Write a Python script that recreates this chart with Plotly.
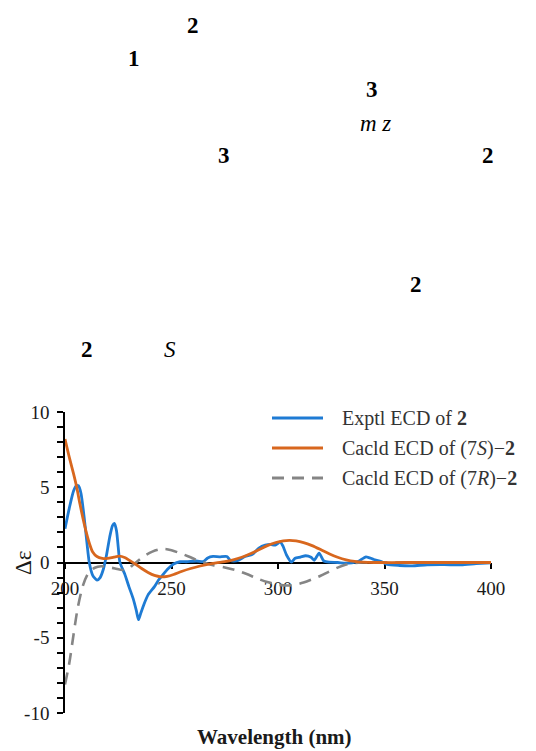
import plotly.graph_objects as go

# ---------------- data ----------------
exptl_nm = [200, 202, 204, 205.3, 206.3, 207.5, 209, 210.3, 211.4, 213, 215, 216.5, 218, 219.5, 221, 222.3, 223.2,
            224.2, 225, 225.8, 228, 230, 232, 233.5, 234.5, 235.5, 237, 239, 242, 244, 246, 248.5, 251, 254, 257,
            261.7, 265, 267, 269.5, 272.5, 276, 277.8, 281, 284.5, 288, 291, 294, 296.5, 298.7, 301, 302.3, 304,
            306.3, 308, 310.5, 313, 315.5, 317, 319.3, 321.5, 324, 328, 331.5, 334.7, 337.8, 341.3, 345, 348.5,
            351.2, 357, 363, 370, 378, 386, 393, 400]
exptl_val = [2.25, 3.6, 4.75, 5.1, 5.1, 4.6, 3.0, 1.3, 0.0, -0.85, -1.17, -1.0, -0.45, 0.5, 1.7, 2.45, 2.6,
             2.1, 1.0, 0.0, -0.75, -1.6, -2.4, -3.2, -3.8, -3.4, -2.8, -2.15, -1.6, -1.15, -0.8, -0.4, -0.1, 0.05, 0.05,
             0.1, 0.06, 0.3, 0.4, 0.38, 0.4, 0.12, 0.12, 0.4, 0.55, 0.95, 1.15, 1.2, 1.15, 1.37, 1.1, 0.5,
             0.03, 0.28, 0.36, 0.45, 0.35, 0.15, 0.62, 0.1, 0.02, 0.0, -0.05, -0.02, 0.08, 0.38, 0.2, 0.07,
             -0.13, -0.2, -0.22, -0.15, -0.14, -0.16, -0.08, -0.02]

s_nm = [200, 202, 204, 205.5, 207, 208.5, 210, 211.5, 213, 215, 217.5, 220, 223, 225.5, 228, 230.5, 233, 236,
        239, 242, 245, 248, 251, 255, 259, 263, 267, 271, 275, 279, 283, 287, 291, 295, 299, 302.5, 305.5, 308.5,
        312, 316, 320, 324, 328, 332, 336, 340, 345, 360, 380, 400]
s_val = [8.2, 7.0, 5.9, 5.0, 3.9, 2.9, 2.0, 1.25, 0.7, 0.4, 0.28, 0.27, 0.36, 0.42, 0.33, 0.12, -0.1, -0.4,
         -0.66, -0.86, -0.95, -0.92, -0.8, -0.58, -0.4, -0.25, -0.12, -0.02, 0.06, 0.18, 0.35, 0.58, 0.85, 1.12,
         1.33, 1.44, 1.47, 1.43, 1.32, 1.12, 0.86, 0.58, 0.35, 0.18, 0.07, 0.02, 0.0, 0.0, 0.0, 0.0]

r_nm = [200, 202, 204, 206, 208.5, 211, 214, 217, 220, 223.5, 227, 229.5, 232, 235, 238, 241, 244, 247, 250,
        254, 258, 262, 266, 270, 275, 280, 285, 290, 295, 300, 304, 308, 312, 316, 320, 324, 328, 332, 336, 340,
        350, 370, 400]
r_val = [-8.1, -6.7, -4.8, -3.0, -1.5, -0.7, -0.35, -0.25, -0.3, -0.4, -0.5, -0.45, -0.15, 0.2, 0.5, 0.72, 0.86,
         0.9, 0.82, 0.62, 0.4, 0.16, -0.04, -0.2, -0.33, -0.5, -0.75, -1.05, -1.3, -1.47, -1.53, -1.48, -1.33,
         -1.12, -0.88, -0.6, -0.34, -0.14, -0.03, 0.0, 0.0, 0.0, 0.0]

y_ticks = list(range(-10, 11))
y_ticktext = [str(v) if v % 5 == 0 else "" for v in y_ticks]
x_ticks = [200, 250, 300, 350, 400]

legend_labels = ["Exptl ECD of <b>2</b>",
                 "Cacld ECD of (7<i>S</i>)\u2212<b>2</b>",
                 "Cacld ECD of (7<i>R</i>)\u2212<b>2</b>"]

# stray text fragments above the chart (text, x px, y px)
fragments = [("<b>2</b>", 193, 26), ("<b>1</b>", 134, 58), ("<b>3</b>", 372, 90),
             ("<i>m z</i>", 375, 123), ("<b>3</b>", 224, 155), ("<b>2</b>", 488, 155),
             ("<b>2</b>", 416, 284), ("<b>2</b>", 87, 349), ("<i>S</i>", 170, 349)]

# ---------------- styling / layout ----------------
OFF = 8                     # default page body margin
W, H = 536 - OFF, 751 - OFF
ML, MR, MT, MB = 65 - OFF, 45, 412 - OFF, 38
PW, PH = W - ML - MR, H - MT - MB

def px(x):
    return (x - OFF - ML) / PW

def py(y):
    return (OFF + H - MB - y) / PH

BLUE = "#1E7BD4"
ORANGE = "#D8671E"
GRAY = "#858585"
SERIF = "Liberation Serif"
TXT = "#1a1a1a"

fig = go.Figure()
fig.add_trace(go.Scatter(x=exptl_nm, y=exptl_val, mode="lines", name="Exptl",
                         line=dict(color=BLUE, width=2.8, shape="spline", smoothing=0.6)))
fig.add_trace(go.Scatter(x=r_nm, y=r_val, mode="lines", name="7R",
                         line=dict(color=GRAY, width=2.6, dash="12px,8px", shape="spline", smoothing=0.8)))
fig.add_trace(go.Scatter(x=s_nm, y=s_val, mode="lines", name="7S",
                         line=dict(color=ORANGE, width=2.8, shape="spline", smoothing=0.8)))

fig.update_layout(
    width=W, height=H,
    margin=dict(l=ML, r=MR, t=MT, b=MB, pad=0),
    paper_bgcolor="white", plot_bgcolor="white",
    showlegend=False,
    font=dict(family=SERIF, size=17, color=TXT),
    xaxis=dict(range=[200, 400], anchor="free", position=0.5, showline=True, linecolor="black",
               linewidth=1.6, ticks="outside", ticklen=6, tickwidth=1.6, tickcolor="black",
               tickvals=x_ticks, ticktext=[str(v) for v in x_ticks], showgrid=False, zeroline=False,
               ticklabelstandoff=3,
               layer="below traces", tickfont=dict(family=SERIF, size=19, color=TXT)),
    yaxis=dict(range=[-10, 10], showline=True, linecolor="black", linewidth=1.6, ticks="outside",
               ticklen=6, tickwidth=1.6, tickcolor="black", tickvals=y_ticks, ticktext=y_ticktext,
               showgrid=False, zeroline=False, layer="below traces", ticklabelstandoff=4,
               tickfont=dict(family=SERIF, size=19, color=TXT)),
)

ann = []
# axis titles
ann.append(dict(text="<b>Wavelength (nm)</b>", x=px(274), y=py(737), xref="paper", yref="paper",
                xanchor="center", yanchor="middle",
                showarrow=False, font=dict(family=SERIF, size=21, color=TXT)))
ann.append(dict(text="\u0394\u03b5", x=px(23), y=py(563), xref="paper", yref="paper", textangle=-90,
                xanchor="center", yanchor="middle",
                showarrow=False, font=dict(family=SERIF, size=23, color=TXT)))
# legend
legend_colors = [BLUE, ORANGE, GRAY]
legend_dash = ["solid", "solid", "12px,8px"]
rows = [418, 448, 478]
shapes = []
for lab, col, dsh, ry in zip(legend_labels, legend_colors, legend_dash, rows):
    shapes.append(dict(type="line", xref="paper", yref="paper", x0=px(272), x1=px(323), y0=py(ry), y1=py(ry),
                       line=dict(color=col, width=2.8, dash=dsh)))
    ann.append(dict(text=lab, x=px(340), y=py(ry), xref="paper", yref="paper", xanchor="left",
                    yanchor="middle",
                    showarrow=False, font=dict(family=SERIF, size=20, color="#333333")))
# fragments
for t, fx, fy in fragments:
    ann.append(dict(text=t, x=px(fx), y=py(fy), xref="paper", yref="paper", showarrow=False,
                    xanchor="center", yanchor="middle",
                    font=dict(family=SERIF, size=23, color="black")))

fig.update_layout(annotations=ann, shapes=shapes)
fig.write_html("out.html")
